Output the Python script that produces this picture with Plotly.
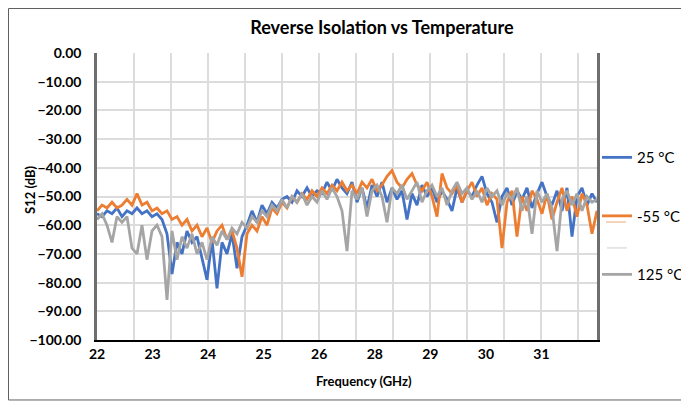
import plotly.graph_objs as go

# frequency points (GHz), 0.1 GHz apart
freq = [round(22 + 0.1 * i, 1) for i in range(101)]

s12_25c = [-56, -57, -55, -56, -54, -57, -55, -56, -54, -56,
           -55, -57, -56, -58, -63, -77, -66, -70, -62, -66,
           -64, -71, -79, -65, -82, -66, -70, -63, -75, -64,
           -60, -55, -59, -53, -56, -52, -54, -51, -50, -52,
           -48, -50, -47, -50, -48, -49, -45, -48, -44, -47,
           -49, -45, -52, -47, -54, -46, -50, -45, -52, -47,
           -51, -48, -58, -49, -53, -46, -50, -47, -52, -48,
           -51, -55, -47, -52, -48, -50, -46, -43, -49, -52,
           -59, -50, -47, -53, -48, -51, -47, -54, -49, -45,
           -50, -53, -48, -55, -47, -64, -50, -47, -53, -49,
           -52]

s12_m55c = [-55, -53, -54, -52, -54, -53, -51, -53, -49, -53,
            -52, -55, -54, -56, -55, -58, -57, -60, -58, -62,
            -60, -64, -61, -66, -62, -60, -65, -62, -68, -78,
            -63, -60, -62, -57, -60, -54, -56, -52, -54, -50,
            -52, -49, -51, -48, -50, -47, -49, -46, -48, -45,
            -48, -46, -49, -45, -47, -44, -48, -46, -43, -41,
            -45, -47, -44, -42, -46, -48, -45, -50, -57, -42,
            -47, -49, -46, -52, -48, -45, -50, -47, -53, -49,
            -51, -68, -52, -48, -64, -50, -55, -48, -51, -56,
            -49, -58, -52, -47, -55, -50, -57, -49, -53, -63,
            -55]

s12_125c = [-58, -56, -60, -66, -57, -59, -57, -68, -70, -60,
            -72, -62, -60, -64, -86, -62, -72, -64, -68, -63,
            -70, -66, -72, -64, -67, -62, -65, -61, -63, -59,
            -61, -57, -59, -55, -57, -53, -55, -51, -54, -50,
            -52, -49, -53, -50, -52, -48, -51, -47, -50, -55,
            -69, -48, -51, -47, -57, -48, -46, -50, -59, -47,
            -49, -46, -51, -48, -45, -52, -48, -46, -50, -47,
            -53, -48, -45, -49, -47, -51, -48, -52, -47, -50,
            -48, -53, -49, -51, -47, -55, -50, -63, -48, -52,
            -49, -54, -69, -51, -48, -53, -49, -55, -50, -52,
            -51]

x_labels = ['22', '23', '24', '25', '26', '28', '29', '30', '31']
y_ticks = [0, -10, -20, -30, -40, -50, -60, -70, -80, -90, -100]

# category style axis: labels every 10/9 GHz, gridlines every 2/3 of that
label_step = 10 / 9
x_tickvals = [22 + label_step * i for i in range(len(x_labels))]

font = 'Lato, "Open Sans", sans-serif'

series = [('25 °C', s12_25c, '#4472C4'),
          ('-55 °C', s12_m55c, '#ED7D31'),
          ('125 °C', s12_125c, '#A5A5A5')]

traces = []
for name, vals, color in series:
    traces.append(go.Scatter(
        x=freq,
        y=vals,
        mode='lines',
        name=name,
        legendgroup=name,
        line=dict(color=color, width=2.8),
    ))

# page body adds an 8px offset, so the figure is sized to the visible area
layout = go.Layout(
    width=681,
    height=397,
    margin=dict(l=89, r=92, t=45, b=65, autoexpand=False),
    paper_bgcolor='white',
    plot_bgcolor='white',
    font=dict(family=font, color='black'),
    title=dict(text='Reverse Isolation vs Temperature',
               x=0.549, xanchor='center', y=0.95, yanchor='middle',
               font=dict(size=18, color='black', weight='bold')),
    xaxis=dict(range=[22, 32], tickvals=x_tickvals, ticktext=x_labels,
               showgrid=False, showline=True, linecolor='black', linewidth=2,
               ticks='', tickfont=dict(size=14, weight='bold'),
               automargin=False,
               minor=dict(tick0=22, dtick=label_step * 2 / 3, showgrid=True,
                          gridcolor='#DCDCDC', gridwidth=1.5),
               zeroline=False),
    yaxis=dict(range=[-100, 0], tickvals=y_ticks, tickformat='.2f',
               showgrid=True, gridcolor='#DCDCDC', gridwidth=1.5,
               showline=True, linecolor='#6E6E6E', linewidth=2.5, mirror=True,
               ticks='', ticklabelstandoff=10, automargin=False,
               tickfont=dict(size=14, weight='bold'), zeroline=False),
    legend=dict(x=1.0, xanchor='left', y=0.693, yanchor='top',
                tracegroupgap=36, font=dict(size=15),
                bgcolor='rgba(0,0,0,0)'),
    showlegend=True,
    annotations=[
        dict(text='<b>Frequency (GHz)</b>', xref='paper', yref='paper',
             x=0.534, y=-0.143, xanchor='center', yanchor='middle',
             showarrow=False, font=dict(size=13)),
        dict(text='<b>S12 (dB)</b>', xref='paper', yref='paper',
             x=-0.134, y=0.523, xanchor='center', yanchor='middle',
             textangle=-90, showarrow=False, font=dict(size=13)),
    ],
    shapes=[
        # outer chart border
        dict(type='rect', xref='paper', yref='paper',
             x0=-0.177, x1=1.178, y0=-0.209, y1=1.155,
             line=dict(color='#606060', width=1)),
        # faded legend remnants
        dict(type='line', xref='paper', yref='paper',
             x0=1.018, x1=1.058, y0=0.411, y1=0.411,
             line=dict(color='#F2D3BC', width=2)),
        dict(type='line', xref='paper', yref='paper',
             x0=1.02, x1=1.06, y0=0.321, y1=0.321,
             line=dict(color='#E6E6E6', width=2)),
    ],
)

fig = go.Figure(data=traces, layout=layout)
fig.write_html("out.html")
